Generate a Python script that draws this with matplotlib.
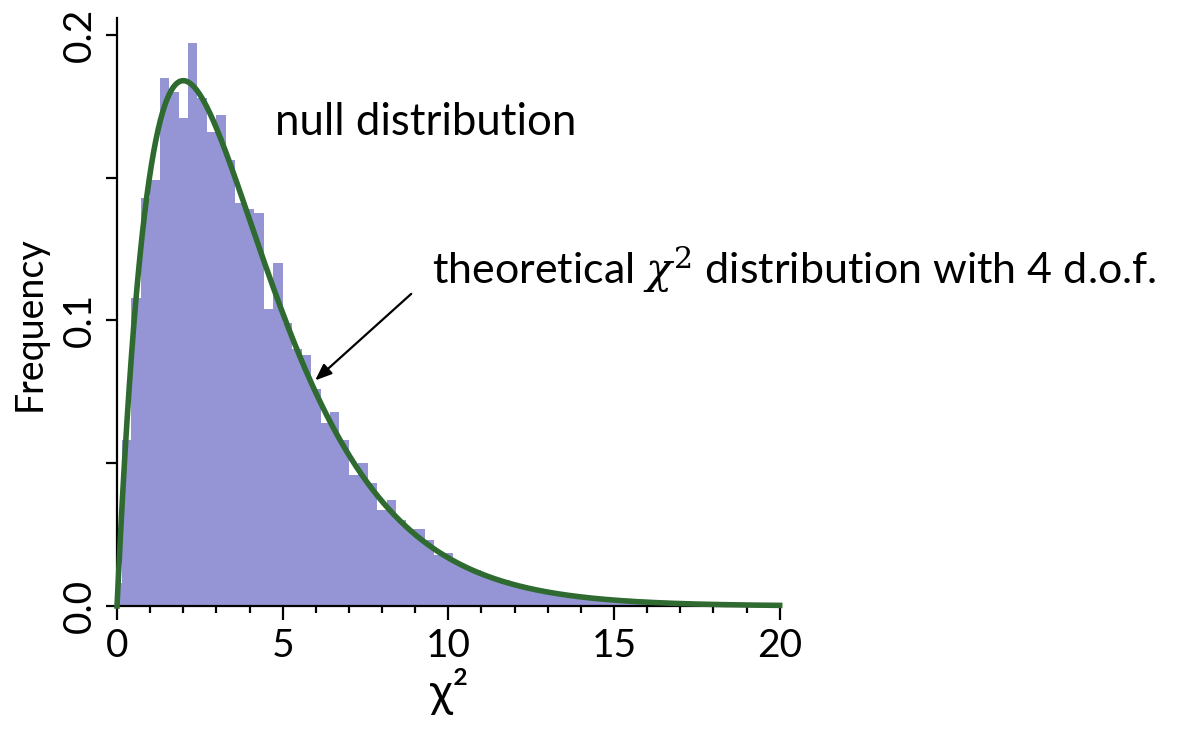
import numpy as np
import matplotlib.pyplot as plt
from math import gamma

# histogram of the permutation (null) chi-square statistics
bin_width = 2 / 7
first_edge = -1 / 7
null_freq = [0.008, 0.058, 0.108, 0.143, 0.149, 0.185, 0.180, 0.171, 0.197, 0.178,
             0.166, 0.172, 0.156, 0.141, 0.139, 0.1375, 0.104, 0.120, 0.099, 0.090,
             0.088, 0.076, 0.064, 0.068, 0.058, 0.046, 0.050, 0.043, 0.0335, 0.037,
             0.030, 0.027, 0.027, 0.023, 0.018, 0.0185, 0.015, 0.0135, 0.0126, 0.0105,
             0.009, 0.009, 0.0078, 0.0068, 0.0058, 0.005, 0.0046, 0.004, 0.0035, 0.0031,
             0.0028, 0.0024, 0.0021, 0.0018, 0.0016, 0.0014, 0.0012, 0.0010, 0.0009, 0.0008,
             0.0007, 0.0006, 0.0005, 0.0005, 0.0004, 0.0003, 0.0003, 0.0003, 0.0002, 0.0002,
             0.0002]
dof = 4

edges = first_edge + bin_width * np.arange(len(null_freq) + 1)

x = np.linspace(0, 20, 600)
k = dof / 2
pdf = x ** (k - 1) * np.exp(-x / 2) / (2 ** k * gamma(k))

plt.rcParams['font.family'] = ['Lato', 'DejaVu Sans']
plt.rcParams['mathtext.fontset'] = 'dejavuserif'

fig = plt.figure(figsize=(11.94, 7.36), dpi=100)
ax = fig.add_axes([0.098, 0.1766, 0.555, 0.7994])

ax.stairs(null_freq, edges, fill=True, color='#9595d6', linewidth=0)
ax.plot(x, pdf, color='#2f6b30', lw=4, clip_on=False, zorder=3)

ax.set_xlim(0, 20)
ax.set_ylim(0, 0.206)
ax.set_xticks([0, 5, 10, 15, 20])
ax.set_xticks(np.arange(0, 21, 1), minor=True)
ax.set_yticks([0, 0.1, 0.2])
ax.set_yticklabels(['0.0', '0.1', '0.2'], rotation=90, va='center')
ax.set_yticks([0.05, 0.15], minor=True)

for s in ['top', 'right']:
    ax.spines[s].set_visible(False)
for s in ['left', 'bottom']:
    ax.spines[s].set_linewidth(1.6)

ax.tick_params(axis='x', which='major', length=10, width=1.6, labelsize=28, pad=6)
ax.tick_params(axis='x', which='minor', length=5, width=1.6)
ax.tick_params(axis='y', which='both', length=8, width=1.6, labelsize=28, pad=6)

ax.set_xlabel('χ²', fontsize=34)
ax.xaxis.set_label_coords(0.502, -0.105)
ax.set_ylabel('Frequency', fontsize=27)
ax.yaxis.set_label_coords(-0.104, 0.48)

ax.text(4.77, 0.165, 'null distribution', fontsize=31.5, va='baseline')
ax.text(9.5, 0.113, r'theoretical $\chi^2$ distribution with 4 d.o.f.',
        fontsize=31, va='baseline', clip_on=False)
ax.annotate('', xy=(5.98, 0.079), xytext=(8.88, 0.1093),
            arrowprops=dict(arrowstyle='-|>,head_length=1.0,head_width=0.4',
                            color='black', lw=1.6, shrinkA=0, shrinkB=0))

fig.savefig('out.png', dpi=100)
